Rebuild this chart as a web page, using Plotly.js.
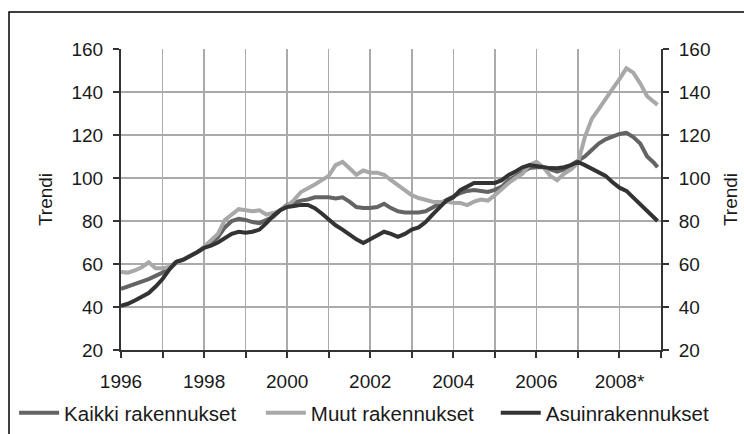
<!DOCTYPE html>
<html>
<head>
<meta charset="utf-8">
<script src="https://cdn.plot.ly/plotly-3.0.1.min.js"></script>
<style>
html,body{margin:0;padding:0;background:#fff;}
#chart{width:744px;height:434px;}
</style>
</head>
<body>
<div id="chart"></div>
<script>
// Periods (every second month, plus the final month)
const periods = [
  "1996-01","1996-03","1996-05","1996-07","1996-09","1996-11",
  "1997-01","1997-03","1997-05","1997-07","1997-09","1997-11",
  "1998-01","1998-03","1998-05","1998-07","1998-09","1998-11",
  "1999-01","1999-03","1999-05","1999-07","1999-09","1999-11",
  "2000-01","2000-03","2000-05","2000-07","2000-09","2000-11",
  "2001-01","2001-03","2001-05","2001-07","2001-09","2001-11",
  "2002-01","2002-03","2002-05","2002-07","2002-09","2002-11",
  "2003-01","2003-03","2003-05","2003-07","2003-09","2003-11",
  "2004-01","2004-03","2004-05","2004-07","2004-09","2004-11",
  "2005-01","2005-03","2005-05","2005-07","2005-09","2005-11",
  "2006-01","2006-03","2006-05","2006-07","2006-09","2006-11",
  "2007-01","2007-03","2007-05","2007-07","2007-09","2007-11",
  "2008-01","2008-03","2008-05","2008-07","2008-09","2008-11",
  "2008-12"
];

const kaikki = [
  48.4, 49.5, 50.5, 51.5, 53, 54.5,
  56, 58.5, 61, 62, 63.5, 65.5,
  67.5, 69.5, 72.5, 77, 80, 81,
  80.5, 79.5, 79, 80.5, 82, 85,
  87.5, 88.5, 89.5, 90, 91, 91,
  91, 90.5, 91, 89, 86.5, 86,
  86, 86.5, 88, 86, 84.5, 84,
  84, 84, 84.5, 86, 88, 89.8,
  91.5, 93, 94, 94.4, 94, 93.5,
  94.5, 96, 99, 101, 103, 104.6,
  105, 105, 104, 103, 104, 106,
  107.5, 110, 113, 116, 118, 119.5,
  120.5, 121, 119, 116, 110, 107,
  105
];

const muut = [
  56.3, 56, 57, 58.5, 60.8, 58,
  58, 58.6, 60.5, 62, 63.5, 65.5,
  68, 71, 74, 80.5, 83, 85.5,
  85, 84.5, 85, 83, 83.7, 85,
  87, 89.8, 93.5, 95, 97, 99,
  101, 106, 107.5, 104.5, 101.5, 103.5,
  102.5, 102.5, 101.5, 99, 96.5, 94,
  92, 90.7, 89.8, 89, 88.8, 89,
  88.5, 88.4, 87.4, 89, 90, 89.5,
  92, 95, 97.7, 100, 102, 106,
  107.5, 105, 101, 99, 102, 104,
  107, 119, 127.5, 132, 137, 141.5,
  146, 151, 149, 144, 138, 135,
  134
];

const asuin = [
  40.5, 41.5, 43, 44.5, 46.5, 49.5,
  53, 57.5, 61, 62, 63.5, 65.5,
  67.5, 68.5, 70, 72, 74, 75,
  74.5, 75, 76, 79, 82.5, 85,
  86.5, 87, 87.5, 87.5, 86, 83.5,
  80.5, 78, 76, 73.5, 71.5, 69.8,
  71.5, 73, 75, 74, 72.6, 74,
  76, 77, 79.5, 83, 86.5, 89.5,
  91, 94.4, 96, 97.7, 97.7, 97.7,
  97.7, 99, 101.4, 103, 105, 106,
  105.5, 105, 104.6, 104.5, 105, 106,
  107.5, 106, 104.5, 103, 101, 98,
  95.5, 94, 91, 88, 85, 81.5,
  80
];

const seriesNames = ["Kaikki rakennukset", "Muut rakennukset", "Asuinrakennukset"];
const yearTicks = [1996,1997,1998,1999,2000,2001,2002,2003,2004,2005,2006,2007,2008,2009];
const yearLabels = ["1996","","1998","","2000","","2002","","2004","","2006","","2008*",""];
const yTicks = [20,40,60,80,100,120,140,160];
const yTitle = "Trendi";

// convert "YYYY-MM" to decimal year
const xs = periods.map(p => {
  const [y, m] = p.split("-").map(Number);
  return y + (m - 1) / 12;
});

const FONT = "Liberation Sans, Arial, sans-serif";

const traces = [
  {x: xs, y: kaikki, name: seriesNames[0], type: "scatter", mode: "lines",
   line: {color: "#646464", width: 4}, legend: "legend"},
  {x: xs, y: muut, name: seriesNames[1], type: "scatter", mode: "lines",
   line: {color: "#a8a8a8", width: 4}, legend: "legend2"},
  {x: xs, y: asuin, name: seriesNames[2], type: "scatter", mode: "lines",
   line: {color: "#333333", width: 4}, legend: "legend3"},
  // carrier for the right-hand axis
  {x: xs, y: asuin, yaxis: "y2", type: "scatter", mode: "lines",
   line: {color: "rgba(0,0,0,0)", width: 0}, showlegend: false, hoverinfo: "skip"}
];

const axisCommon = {
  range: [20, 160], tickvals: yTicks, ticks: "outside", ticklen: 6, tickwidth: 2,
  tickcolor: "#333", showline: true, linecolor: "#333", linewidth: 2,
  tickfont: {family: FONT, size: 19, color: "#1a1a1a"}, ticklabelstandoff: 6,
  fixedrange: true
};

const legendCommon = {
  orientation: "h", xanchor: "left", y: -0.209, yanchor: "middle",
  font: {family: FONT, size: 20.5, color: "#1a1a1a"}, itemwidth: 40,
  bgcolor: "rgba(0,0,0,0)"
};

const layout = {
  width: 744, height: 434,
  paper_bgcolor: "#fff", plot_bgcolor: "#fff",
  margin: {l: 121, r: 83, t: 49, b: 84, autoexpand: false},
  showlegend: true,
  legend: Object.assign({}, legendCommon, {x: -0.198}),
  legend2: Object.assign({}, legendCommon, {x: 0.259}),
  legend3: Object.assign({}, legendCommon, {x: 0.694}),
  xaxis: {
    range: [1996, 2009], tickvals: yearTicks, ticktext: yearLabels,
    ticks: "outside", ticklen: 6, tickwidth: 2, tickcolor: "#333",
    showline: true, linecolor: "#333", linewidth: 2,
    showgrid: true, gridcolor: "#aaaaaa", gridwidth: 1.6, zeroline: false,
    tickfont: {family: FONT, size: 19, color: "#1a1a1a"}, ticklabelstandoff: 7,
    fixedrange: true
  },
  yaxis: Object.assign({}, axisCommon, {
    side: "left", showgrid: true, gridcolor: "#aaaaaa", gridwidth: 1.6, zeroline: false,
    title: {text: yTitle, font: {family: FONT, size: 19, color: "#1a1a1a"}, standoff: 14}
  }),
  yaxis2: Object.assign({}, axisCommon, {
    side: "right", overlaying: "y", showgrid: false, zeroline: false,
    title: {text: yTitle, font: {family: FONT, size: 19, color: "#1a1a1a"}, standoff: 14}
  }),
  shapes: [
    {type: "rect", xref: "paper", yref: "paper",
     x0: -0.2074, x1: 1.16, y0: -0.29, y1: 1.1229,
     line: {color: "#000", width: 1.5}, fillcolor: "rgba(0,0,0,0)", layer: "below"}
  ]
};

Plotly.newPlot("chart", traces, layout, {displayModeBar: false, staticPlot: true});
</script>
</body>
</html>
